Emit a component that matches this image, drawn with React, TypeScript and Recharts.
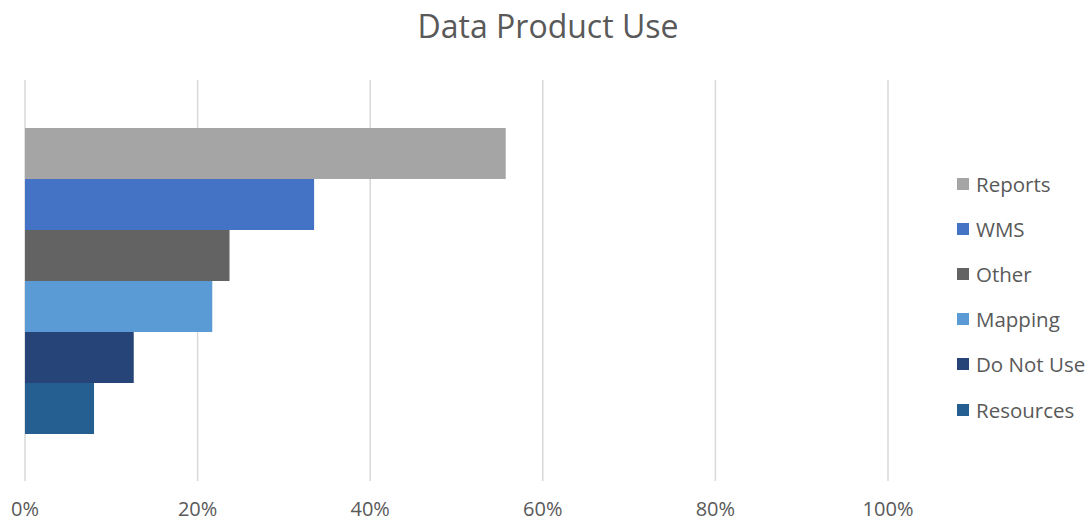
import React from "react";
import { BarChart, Bar, XAxis, YAxis, CartesianGrid } from "recharts";

const categories = ["Data Product Use"];
const seriesNames = ["Reports", "WMS", "Other", "Mapping", "Do Not Use", "Resources"];
const seriesValues = [0.557, 0.335, 0.237, 0.217, 0.126, 0.08];
const seriesColors = ["#A5A5A5", "#4472C4", "#636363", "#5B9BD5", "#264478", "#255E91"];
const xTicks = [0, 0.2, 0.4, 0.6, 0.8, 1.0];

const FONT = "'Open Sans', 'Noto Sans', sans-serif";
const TEXT = "#595959";

const data = categories.map((c) => {
  const row: Record<string, string | number> = { category: c };
  seriesNames.forEach((s, i) => {
    row[s] = seriesValues[i];
  });
  return row;
});

const PercentTick = (props: any) => {
  const { x, payload } = props;
  return (
    <text x={x} y={516} textAnchor="middle" fill={TEXT} fontSize={20} fontFamily={FONT}>
      {`${Math.round(payload.value * 100)}%`}
    </text>
  );
};

const SideLegend = () => (
  <div
    style={{
      position: "absolute",
      left: 957,
      top: 161,
      fontFamily: FONT,
      color: TEXT,
      fontSize: 20.5,
    }}
  >
    {seriesNames.map((s, i) => (
      <div key={s} style={{ display: "flex", alignItems: "center", height: 45.2 }}>
        <span
          style={{
            display: "inline-block",
            width: 12,
            height: 12,
            background: seriesColors[i],
            marginRight: 7,
          }}
        />
        <span style={{ whiteSpace: "nowrap" }}>{s}</span>
      </div>
    ))}
  </div>
);

export default function App() {
  return (
    <div style={{ position: "absolute", left: 0, top: 0, width: 1091, height: 521, background: "#fff" }}>
      <div
        style={{
          position: "absolute",
          left: 0,
          top: 4,
          width: 1096,
          textAlign: "center",
          fontFamily: FONT,
          fontSize: 32,
          color: TEXT,
        }}
      >
        Data Product Use
      </div>
      <BarChart
        width={1091}
        height={521}
        data={data}
        layout="vertical"
        margin={{ top: 80, right: 203, bottom: 0, left: 25 }}
        barCategoryGap={48}
        barGap={0}
      >
        <CartesianGrid horizontal={false} vertical={true} stroke="#D9D9D9" strokeWidth={1.5} />
        <XAxis
          type="number"
          domain={[0, 1]}
          ticks={xTicks}
          axisLine={false}
          tickLine={false}
          height={40}
          tick={<PercentTick />}
          interval={0}
        />
        <YAxis type="category" dataKey="category" hide width={0} />
        {seriesNames.map((s, i) => (
          <Bar key={s} dataKey={s} fill={seriesColors[i]} isAnimationActive={false} />
        ))}
      </BarChart>
      <SideLegend />
    </div>
  );
}
